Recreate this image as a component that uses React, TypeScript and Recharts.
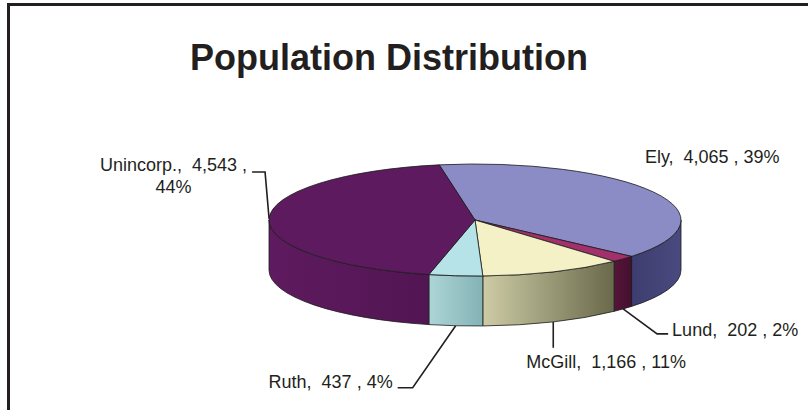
import { Pie, PieChart } from "recharts";

const names = ["Ely", "Lund", "McGill", "Ruth", "Unincorp."];
const population = [4065, 202, 1166, 437, 4543];
const topColors = ["#8b8bc6", "#a3306b", "#f3f1c5", "#b6e3e7", "#5d1a5e"];
const sideColors = [
  ["#3d3d6f", "#4a4a80"],
  ["#551438", "#441030"],
  ["#cdcca6", "#69694b"],
  ["#acd5d7", "#84b3b5"],
  ["#5e1b5f", "#521553"],
];

const data = names.map((name, i) => ({ name, value: population[i], fill: topColors[i] }));

const W = 808;
const H = 410;
const CX = 475;
const CY = 220;
const R = 206;
const TILT = 56 / 206; // vertical squash of the disc
const DEPTH = 50;
const RAD = Math.PI / 180;
const INK = "#231f20";
const FONT = "'Liberation Sans', Arial, sans-serif";

// per-slice label placement, offsets from the slice's edge anchor
const labelLayout = [
  { leader: [], text: [-9, -29], align: "start" },
  { leader: [[34, 25], [45, 25]], text: [49, 27], align: "start" },
  { leader: [[0, 26]], text: [-27, 46], align: "start" },
  { leader: [[-43, 62], [-58, 62]], text: [-63, 62], align: "end" },
  { leader: [[-4, -46.5], [-17, -46.5]], text: [-95.5, -47.5], align: "middle", wrap: true },
];

function proj(cx: number, cy: number, r: number, a: number) {
  return [cx + r * Math.cos(a * RAD), cy - TILT * r * Math.sin(a * RAD)];
}

function Slice3D(props: any) {
  const { cx, cy, outerRadius: r, startAngle, endAngle, index } = props;
  const hi = Math.max(startAngle, endAngle);
  const lo = Math.min(startAngle, endAngle);
  const ry = r * TILT;
  const [sx, sy] = proj(cx, cy, r, hi);
  const [ex, ey] = proj(cx, cy, r, lo);
  const large = hi - lo > 180 ? 1 : 0;
  const top = `M${cx},${cy} L${sx},${sy} A${r},${ry} 0 ${large} 1 ${ex},${ey} Z`;

  // side wall only on the front half of the disc
  const w1 = Math.min(hi, 0);
  const w0 = Math.max(lo, -180);
  let wall = null;
  if (w1 > w0) {
    const [ax, ay] = proj(cx, cy, r, w1);
    const [bx, by] = proj(cx, cy, r, w0);
    const d = `M${ax},${ay} A${r},${ry} 0 0 1 ${bx},${by} L${bx},${by + DEPTH} A${r},${ry} 0 0 0 ${ax},${ay + DEPTH} Z`;
    wall = <path d={d} fill={`url(#wall-${index})`} stroke="#1a1a1a" strokeWidth={0.8} />;
  }
  const [c0, c1] = sideColors[index];
  return (
    <g>
      <defs>
        <linearGradient id={`wall-${index}`} x1="0" x2="1" y1="0" y2="0">
          <stop offset="0%" stopColor={c0} />
          <stop offset="100%" stopColor={c1} />
        </linearGradient>
      </defs>
      {wall}
      <path d={top} fill={topColors[index]} stroke="#1a1a1a" strokeWidth={0.8} strokeLinejoin="round" />
    </g>
  );
}

function renderLabel(props: any) {
  const { cx, cy, outerRadius: r, midAngle, index, name, value, percent } = props;
  const [px, py0] = proj(cx, cy, r, midAngle);
  const py = Math.sin(midAngle * RAD) < 0 ? py0 + DEPTH : py0;
  const lay = labelLayout[index];
  const pts = [[px, py], ...lay.leader.map(([dx, dy]) => [px + dx, py + dy])];
  const pct = `${Math.round(percent * 100)}%`;
  const num = value.toLocaleString("en-US");
  const tx = px + lay.text[0];
  const ty = py + lay.text[1];
  return (
    <g key={`lbl-${index}`}>
      {lay.leader.length > 0 && (
        <polyline points={pts.map((p) => p.join(",")).join(" ")} fill="none" stroke={INK} strokeWidth={1.6} />
      )}
      <text x={tx} y={ty} textAnchor={lay.align} fontSize={18} fontFamily={FONT} fill={INK} style={{ whiteSpace: "pre" }}>
        {lay.wrap ? (
          <>
            <tspan x={tx}>{`${name},  ${num} ,`}</tspan>
            <tspan x={tx} dy={22}>{pct}</tspan>
          </>
        ) : (
          `${name},  ${num} , ${pct}`
        )}
      </text>
    </g>
  );
}

export default function App() {
  return (
    <div style={{ position: "absolute", left: 0, top: 0, width: W, height: H, background: "#fff" }}>
      <svg width={W} height={H} style={{ position: "absolute", left: 0, top: 0 }}>
        <path d={`M8.5,${H} L8.5,4.5 L${W},4.5`} fill="none" stroke={INK} strokeWidth={3} />
        <text x={389} y={70} textAnchor="middle" fontSize={36} fontWeight="bold" fontFamily={FONT} fill={INK}>
          Population Distribution
        </text>
      </svg>
      <div style={{ position: "absolute", left: 0, top: 0 }}>
        <PieChart width={W} height={H} margin={{ top: 0, right: 0, bottom: 0, left: 0 }}>
          <Pie
            data={data}
            dataKey="value"
            nameKey="name"
            cx={CX}
            cy={CY}
            outerRadius={R}
            startAngle={100}
            endAngle={-260}
            shape={Slice3D}
            label={renderLabel}
            labelLine={false}
            isAnimationActive={false}
          />
        </PieChart>
      </div>
    </div>
  );
}
